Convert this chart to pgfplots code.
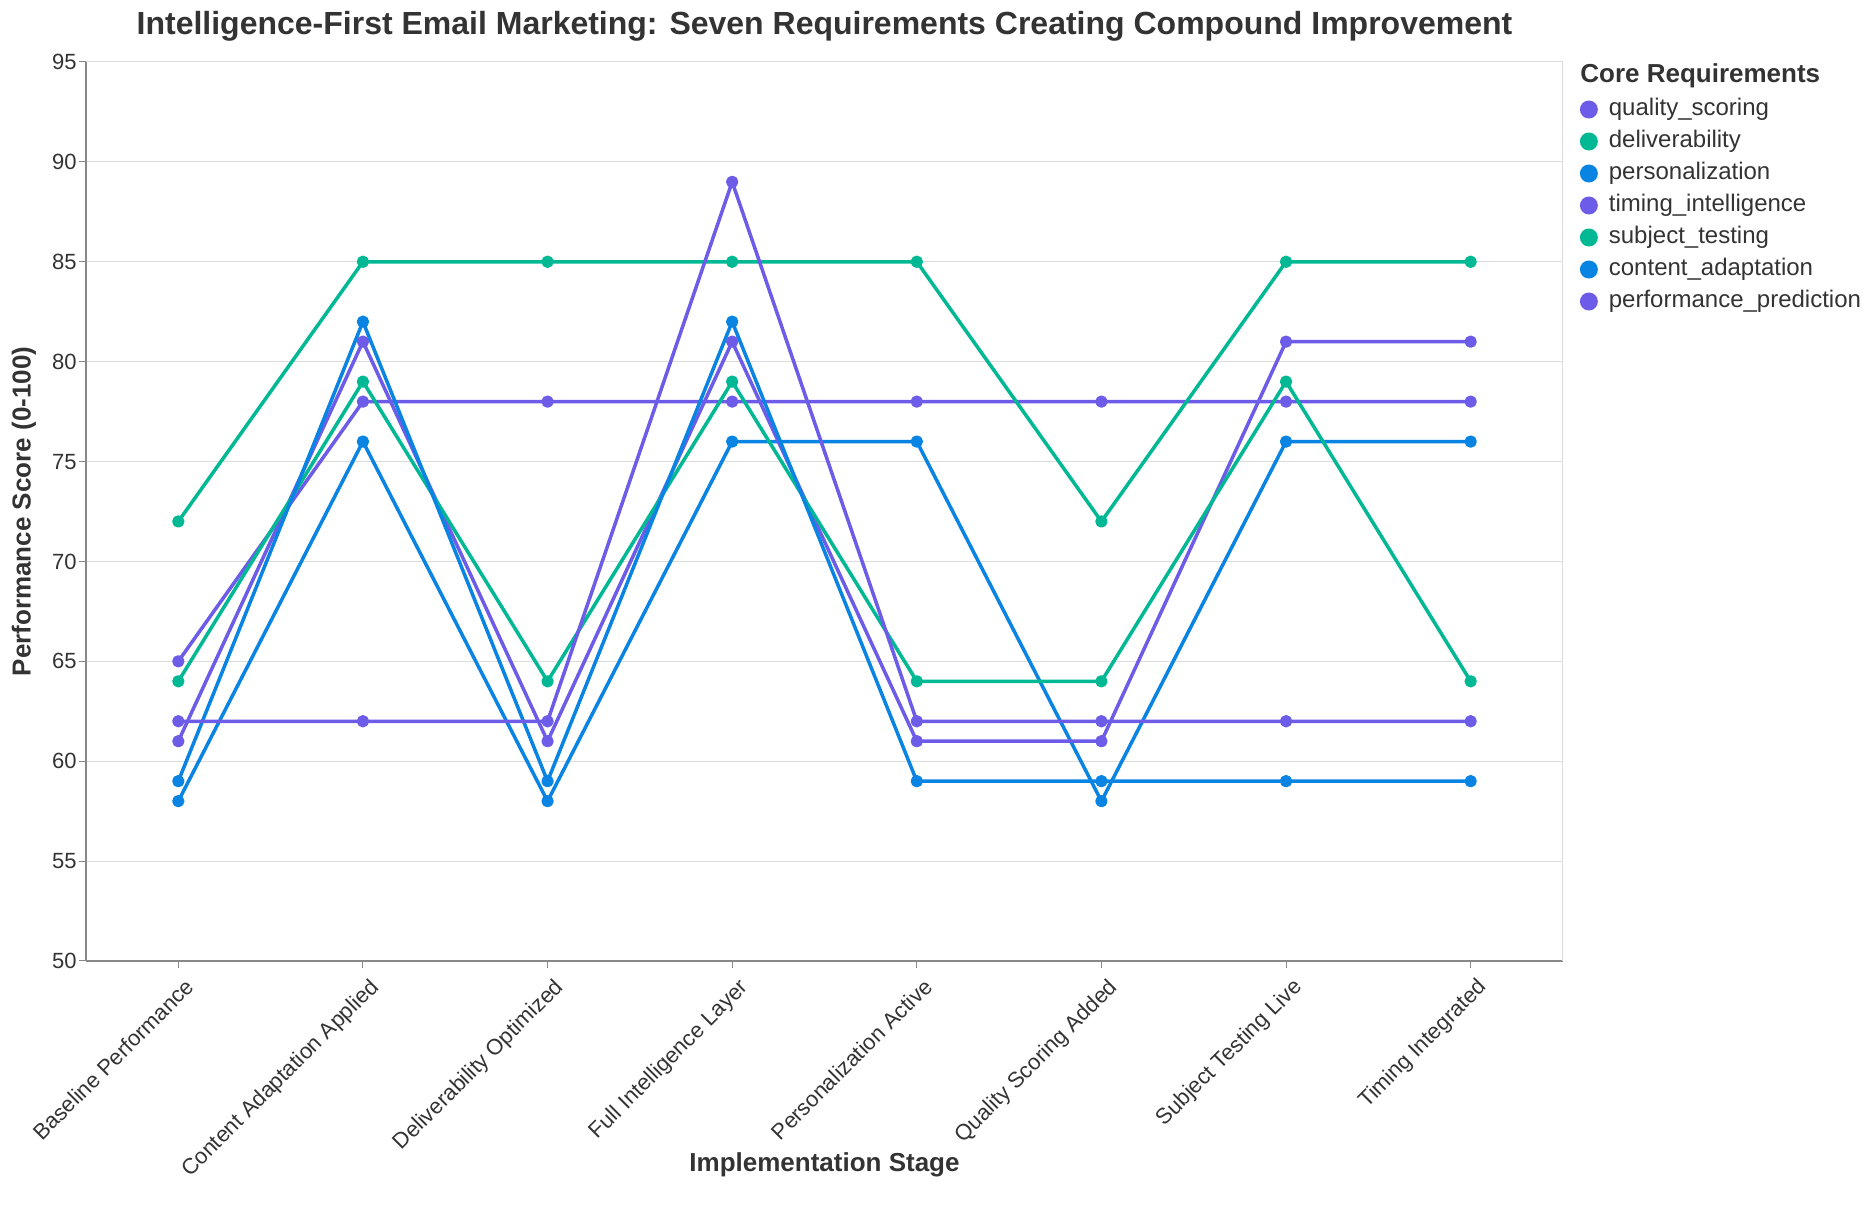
\documentclass[border=0pt]{standalone}
\usepackage{pgfplots}
\usepackage{pgfplotstable}
\pgfplotsset{compat=1.18}
\usepackage{fontspec}
\setmainfont{Liberation Sans}

\definecolor{cPurple}{HTML}{6C5CE7}
\definecolor{cGreen}{HTML}{00B894}
\definecolor{cBlue}{HTML}{0984E3}
\definecolor{gridgray}{HTML}{DDDDDD}
\definecolor{axisgray}{HTML}{888888}
\definecolor{textdark}{HTML}{333333}

% Scores per implementation stage (stages in index order 0..7)
\pgfplotstableread{
stage quality deliver personal timing subject content predict
0     65      72      58       61     64      59      62
1     78      85      76       81     79      82      62
2     78      85      58       61     64      59      62
3     78      85      76       81     79      82      89
4     78      85      76       61     64      59      62
5     78      72      58       61     64      59      62
6     78      85      76       81     79      59      62
7     78      85      76       81     64      59      62
}\scores

\begin{document}
\begin{tikzpicture}
\path[use as bounding box] (0,0) rectangle (937pt,612pt);
\begin{axis}[
  at={(43pt,131.5pt)}, anchor=south west,
  scale only axis, width=738.5pt, height=449.5pt,
  xmin=-0.5, xmax=7.5, ymin=50, ymax=95,
  xtick={0,...,7},
  xticklabels={Baseline Performance,Content Adaptation Applied,Deliverability Optimized,Full Intelligence Layer,Personalization Active,Quality Scoring Added,Subject Testing Live,Timing Integrated},
  ytick={50,55,...,95},
  axis lines=left,
  axis line style={-, draw=axisgray, line width=1pt},
  tick align=outside,
  major tick length=3.5pt,
  tick style={draw=axisgray, line width=0.5pt},
  ymajorgrids,
  grid style={draw=gridgray, line width=0.5pt},
  /pgf/number format/assume math mode=true,
  ticklabel style={font=\fontsize{11}{13}\selectfont, text=textdark},
  xticklabel style={rotate=45, anchor=north east, inner sep=1pt, yshift=-4pt},
  yticklabel style={inner sep=1pt},
  title={Intelligence-First Email Marketing: Seven Requirements Creating Compound Improvement},
  title style={at={(axis description cs:0.5,1)}, anchor=center, yshift=12pt,
    font=\fontsize{16}{19}\selectfont\bfseries, text=textdark},
  xlabel={Implementation Stage},
  xlabel style={at={(axis description cs:0.5,-0.227)}, anchor=center,
    font=\fontsize{13}{15}\selectfont\bfseries, text=textdark},
  ylabel={Performance Score (0-100)},
  ylabel style={at={(axis description cs:-0.042,0.5)}, anchor=center,
    font=\fontsize{13}{15}\selectfont\bfseries, text=textdark},
  every axis plot/.append style={line width=1.75pt, line join=round, mark=*, mark size=2.2pt},
  legend image code/.code={\fill[#1, draw=none] (4.5pt,0) circle (4.5pt);},
  legend cell align=left,
  legend style={at={(axis description cs:1,1)}, anchor=north west,
    xshift=8.25pt, yshift=-18pt, draw=none, fill=none, inner sep=0pt,
    row sep=4.9pt,
    font=\fontsize{12}{14}\selectfont,
    nodes={inner sep=0pt, text height=8.6pt, text depth=2.5pt, text=textdark},
    /tikz/every odd column/.append style={column sep=5.5pt}},
  after end axis/.code={
    \draw[gridgray, line width=0.5pt] (rel axis cs:1,0) -- (rel axis cs:1,1);
    \node[anchor=west, inner sep=0pt, font=\fontsize{13}{15}\selectfont\bfseries, text=textdark]
      at ([xshift=8.5pt, yshift=-7pt]rel axis cs:1,1) {Core Requirements};
  },
]
\addplot[color=cPurple] table[x=stage, y=quality] {\scores};
\addlegendentry{quality\_scoring}
\addplot[color=cGreen] table[x=stage, y=deliver] {\scores};
\addlegendentry{deliverability}
\addplot[color=cBlue] table[x=stage, y=personal] {\scores};
\addlegendentry{personalization}
\addplot[color=cPurple] table[x=stage, y=timing] {\scores};
\addlegendentry{timing\_intelligence}
\addplot[color=cGreen] table[x=stage, y=subject] {\scores};
\addlegendentry{subject\_testing}
\addplot[color=cBlue] table[x=stage, y=content] {\scores};
\addlegendentry{content\_adaptation}
\addplot[color=cPurple] table[x=stage, y=predict] {\scores};
\addlegendentry{performance\_prediction}
\end{axis}
\end{tikzpicture}
\end{document}
